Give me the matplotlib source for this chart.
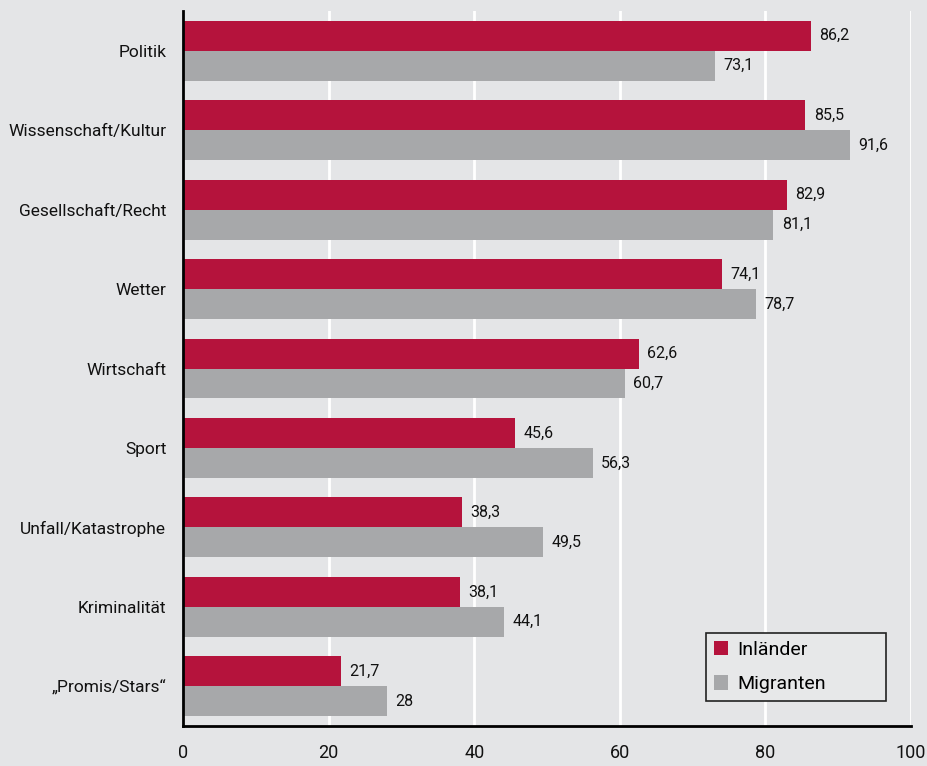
import matplotlib
matplotlib.use("Agg")
import matplotlib.pyplot as plt
import numpy as np

# Themen-Interesse: Inländer vs. Migranten (Prozent)
categories = ["Politik", "Wissenschaft/Kultur", "Gesellschaft/Recht", "Wetter",
              "Wirtschaft", "Sport", "Unfall/Katastrophe", "Kriminalität",
              "\u201ePromis/Stars\u201c"]
inlaender = [86.2, 85.5, 82.9, 74.1, 62.6, 45.6, 38.3, 38.1, 21.7]
migranten = [73.1, 91.6, 81.1, 78.7, 60.7, 56.3, 49.5, 44.1, 28.0]
x_ticks = [0, 20, 40, 60, 80, 100]

_RED = "#B5133C"
_GREY = "#A7A8AA"
_BG = "#E4E5E7"

plt.rcParams["font.family"] = ["Roboto", "DejaVu Sans"]


def _fmt(v):
    s = f"{v:.1f}".replace(".", ",")
    return s[:-2] if s.endswith(",0") else s


fig = plt.figure(figsize=(9.28, 7.66), dpi=100)
fig.patch.set_facecolor(_BG)
ax = fig.add_axes([183 / 928, 40 / 766, 728 / 928, 715 / 766])
ax.set_facecolor(_BG)

y = np.arange(len(categories))
h = 0.377
b1 = ax.barh(y - h / 2, inlaender, height=h, color=_RED, label="Inländer", zorder=3)
b2 = ax.barh(y + h / 2, migranten, height=h, color=_GREY, label="Migranten", zorder=3)

for bars, vals in ((b1, inlaender), (b2, migranten)):
    for bar, v in zip(bars, vals):
        ax.annotate(_fmt(v), xy=(v, bar.get_y() + bar.get_height() / 2),
                    xytext=(6, 0), textcoords="offset points",
                    ha="left", va="center", fontsize=11.5, color="#111111")

ax.set_xlim(0, 100)
ax.set_ylim(len(categories) - 0.5, -0.5)
ax.set_xticks(x_ticks)
ax.set_xticklabels([str(t) for t in x_ticks], fontsize=13)
ax.set_yticks(y)
ax.set_yticklabels(categories, fontsize=12.5)
ax.tick_params(axis="both", length=0, colors="#111111")
ax.tick_params(axis="x", pad=13)
ax.tick_params(axis="y", pad=12)

ax.grid(axis="x", color="white", linewidth=2, zorder=0)
ax.set_axisbelow(True)
for side in ("top", "right"):
    ax.spines[side].set_visible(False)
for side in ("left", "bottom"):
    ax.spines[side].set_color("black")
    ax.spines[side].set_linewidth(2)
    ax.spines[side].set_zorder(4)

leg = ax.legend(loc="lower left", bbox_to_anchor=(0.7184, 0.035, 0.2473, 0.1007),
                mode="expand", fontsize=14, frameon=True, fancybox=False,
                facecolor="#E7E8E9", edgecolor="#222222",
                handlelength=0.75, handleheight=0.75, handletextpad=0.45,
                borderpad=0.4, labelspacing=0.85, borderaxespad=0)
leg.get_frame().set_linewidth(1.2)
leg.get_frame().set_alpha(1)

fig.savefig("out.png", dpi=100, facecolor=_BG)
